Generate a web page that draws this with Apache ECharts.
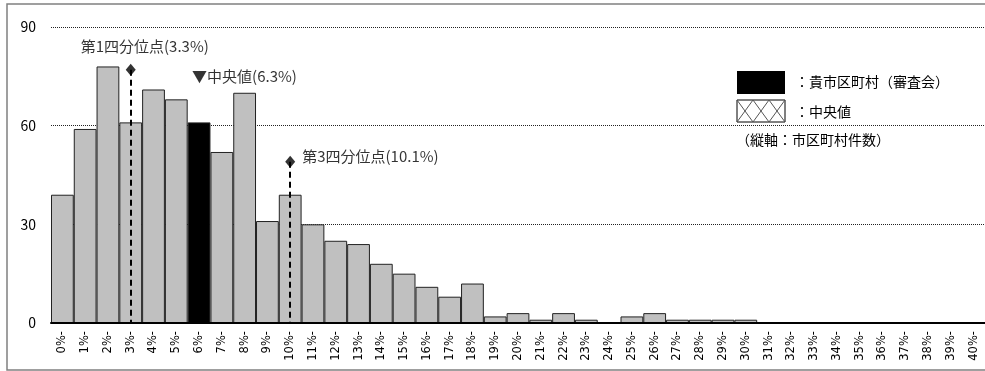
<!DOCTYPE html>
<html lang="ja">
<head>
  <meta charset="UTF-8">
  <script src="https://cdn.jsdelivr.net/npm/echarts@6.0.0/dist/echarts.min.js"></script>
  <style>
    html, body { margin: 0; padding: 0; background: #fff; }
  </style>
</head>
<body>
  <div id="histChart" style="width: 985px;height:371px;"></div>

  <script type="text/javascript">

    // 0%- .. 40%-
    var categories = ['0%-', '1%-', '2%-', '3%-', '4%-', '5%-', '6%-', '7%-', '8%-', '9%-',
      '10%-', '11%-', '12%-', '13%-', '14%-', '15%-', '16%-', '17%-', '18%-', '19%-',
      '20%-', '21%-', '22%-', '23%-', '24%-', '25%-', '26%-', '27%-', '28%-', '29%-',
      '30%-', '31%-', '32%-', '33%-', '34%-', '35%-', '36%-', '37%-', '38%-', '39%-', '40%-'];
    var counts = [39, 59, 78, 61, 71, 68, 61, 52, 70, 31,
      39, 30, 25, 24, 18, 15, 11, 8, 12, 2,
      3, 1, 3, 1, 0, 2, 3, 1, 1, 1,
      1, 0, 0, 0, 0, 0, 0, 0, 0, 0, 0];
    var ownCategory = '6%-';
    var yTicks = [0, 30, 60, 90];

    var quartileNames = ['第1四分位点(3.3%)', '第3四分位点(10.1%)'];
    var quartileCats = ['3%-', '10%-'];
    var quartileTops = [77, 49];
    var medianLabel = '▼中央値(6.3%)';
    var medianCat = '6%-';
    var medianY = 75;

    var legendOwn = '：貴市区町村（審査会）';
    var legendMedian = '：中央値';
    var axisNote = '（縦軸：市区町村件数）';

    var jpFont = '"Noto Sans CJK JP", sans-serif';

    function getOrCreateChart(div) {
      return echarts.init(div, null, { renderer: 'canvas' });
    }

    // cross hatch for the median legend box
    function hatchGroup(x, y, w, h) {
      var children = [{
        type: 'rect',
        shape: { x: 0, y: 0, width: w, height: h },
        style: { fill: '#fff', stroke: '#000', lineWidth: 1 }
      }];
      var step = w / 3;
      for (var i = 0; i < 3; i++) {
        children.push({
          type: 'line',
          shape: { x1: i * step, y1: 0, x2: (i + 1) * step, y2: h },
          style: { stroke: '#555', lineWidth: 1 }
        });
        children.push({
          type: 'line',
          shape: { x1: (i + 1) * step, y1: 0, x2: i * step, y2: h },
          style: { stroke: '#555', lineWidth: 1 }
        });
      }
      return { type: 'group', x: x, y: y, children: children, z: 10 };
    }

    function createHistChart() {
      const chart = getOrCreateChart(document.getElementById('histChart'));

      const barData = counts.map((v, i) => ({
        value: v,
        itemStyle: categories[i] === ownCategory ? { color: '#000' } : undefined
      }));

      const markerData = quartileCats.map((c, i) => ({
        value: [c, quartileTops[i]],
        label: i === 0
          ? { show: true, position: 'top', distance: 6, offset: [14, -4], formatter: quartileNames[i] }
          : { show: true, position: 'right', distance: 7, offset: [0, -6], formatter: quartileNames[i] }
      }));

      let option = {
        animation: false,
        grid: {
          left: 51,
          top: 27,
          width: 935,
          bottom: 48
        },
        xAxis: {
          type: 'category',
          data: categories,
          boundaryGap: true,
          axisLine: { lineStyle: { color: '#000', width: 2 } },
          axisTick: { inside: true, length: 4, lineStyle: { color: '#000' } },
          axisLabel: {
            interval: 0,
            rotate: 90,
            margin: 8,
            color: '#000',
            fontSize: 11.5,
            fontFamily: '"DejaVu Sans", sans-serif'
          },
          z: 5
        },
        yAxis: {
          type: 'value',
          min: yTicks[0],
          max: yTicks[yTicks.length - 1],
          interval: yTicks[1] - yTicks[0],
          axisLine: { show: false },
          axisTick: { show: false },
          axisLabel: {
            margin: 15,
            color: '#000',
            fontSize: 14,
            fontFamily: jpFont
          },
          splitLine: {
            lineStyle: { color: '#222', type: [1, 1], width: 1 }
          }
        },
        series: [
          {
            name: 'count',
            type: 'bar',
            data: barData,
            barWidth: '100%',
            barCategoryGap: 0,
            itemStyle: { color: '#c0c0c0', borderColor: '#222', borderWidth: 1 }
          },
          {
            name: 'quartile',
            type: 'scatter',
            data: markerData,
            symbol: 'diamond',
            symbolSize: [10, 12],
            itemStyle: { color: '#000' },
            label: { color: '#000', fontSize: 15, fontFamily: jpFont },
            z: 6,
            markLine: {
              silent: true,
              symbol: 'none',
              label: { show: false },
              lineStyle: { color: '#000', type: [6, 4], width: 2 },
              data: quartileCats.map((c, i) => [
                { coord: [c, quartileTops[i]] },
                { coord: [c, 0] }
              ])
            }
          },
          {
            name: 'median',
            type: 'scatter',
            data: [[medianCat, medianY]],
            symbolSize: 0,
            label: {
              show: true,
              position: 'right',
              distance: 0,
              offset: [-7, 0],
              formatter: medianLabel,
              color: '#000',
              fontSize: 15,
              fontFamily: jpFont
            },
            z: 6
          }
        ],
        graphic: [
          {
            type: 'rect',
            shape: { x: 7, y: 4, width: 1000, height: 366 },
            style: { fill: 'none', stroke: '#808080', lineWidth: 1.5 },
            silent: true
          },
          {
            type: 'rect',
            shape: { x: 737, y: 71, width: 48, height: 23 },
            style: { fill: '#000' },
            z: 10
          },
          hatchGroup(737, 100, 48, 22),
          {
            type: 'text',
            x: 795, y: 82,
            style: { text: legendOwn, fill: '#000', font: '14px ' + jpFont, textVerticalAlign: 'middle' },
            z: 10
          },
          {
            type: 'text',
            x: 795, y: 112,
            style: { text: legendMedian, fill: '#000', font: '14px ' + jpFont, textVerticalAlign: 'middle' },
            z: 10
          },
          {
            type: 'text',
            x: 736, y: 140,
            style: { text: axisNote, fill: '#000', font: '14px ' + jpFont, textVerticalAlign: 'middle' },
            z: 10
          }
        ]
      };

      chart.setOption(option);
    }
    createHistChart();
  </script>
</body>
</html>
